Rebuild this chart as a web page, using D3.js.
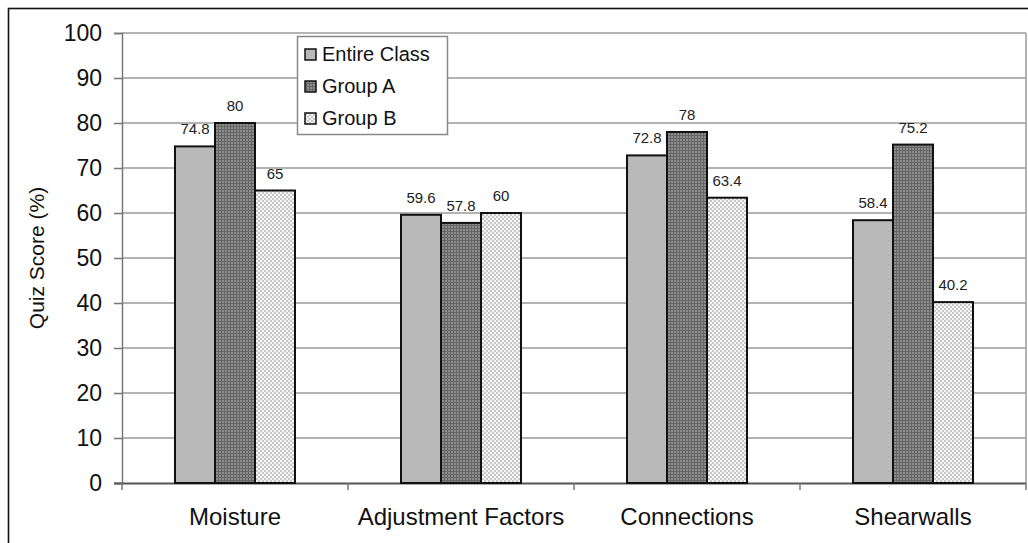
<!DOCTYPE html>
<html>
<head>
<meta charset="utf-8">
<script src="https://cdn.jsdelivr.net/npm/d3@7/dist/d3.min.js"></script>
<style>
  html, body { margin: 0; padding: 0; background: #fff; }
  svg { display: block; font-family: "Liberation Sans", Arial, sans-serif; }
</style>
</head>
<body>
<svg id="chart" width="1028" height="543"></svg>
<script>
// Quiz topics and scores (%)
const categories = ["Moisture", "Adjustment Factors", "Connections", "Shearwalls"];
const seriesNames = ["Entire Class", "Group A", "Group B"];
const entireClass = [74.8, 59.6, 72.8, 58.4];
const groupA = [80, 57.8, 78, 75.2];
const groupB = [65, 60, 63.4, 40.2];
const yTicks = [0, 10, 20, 30, 40, 50, 60, 70, 80, 90, 100];

const seriesValues = [entireClass, groupA, groupB];
const rows = categories.map((c, i) => ({
  category: c,
  values: seriesNames.map((s, k) => ({ series: s, value: seriesValues[k][i] }))
}));

const svg = d3.select("#chart");

// Pattern fills for the three series
const defs = svg.append("defs");
const pA = defs.append("pattern").attr("id", "fill-a")
  .attr("patternUnits", "userSpaceOnUse").attr("width", 3).attr("height", 3);
pA.append("rect").attr("width", 3).attr("height", 3).attr("fill", "#8c8c8c");
pA.append("rect").attr("x", 0).attr("y", 0).attr("width", 3).attr("height", 1).attr("fill", "#666");
pA.append("rect").attr("x", 0).attr("y", 0).attr("width", 1).attr("height", 3).attr("fill", "#666");

const pB = defs.append("pattern").attr("id", "fill-b")
  .attr("patternUnits", "userSpaceOnUse").attr("width", 4).attr("height", 4);
pB.append("rect").attr("width", 4).attr("height", 4).attr("fill", "#f4f4f4");
pB.append("rect").attr("x", 0).attr("y", 0).attr("width", 2).attr("height", 2).attr("fill", "#c8c8c8");
pB.append("rect").attr("x", 2).attr("y", 2).attr("width", 2).attr("height", 2).attr("fill", "#c8c8c8");

const fills = { "Entire Class": "#b9b9b9", "Group A": "url(#fill-a)", "Group B": "url(#fill-b)" };

// Outer frame
svg.append("rect").attr("x", 8.5).attr("y", 8.5).attr("width", 1030).attr("height", 560)
  .attr("fill", "none").attr("stroke", "#111").attr("stroke-width", 1.6);

const plotLeft = 122, plotRight = 1026, plotTop = 33, plotBottom = 483;

const x0 = d3.scaleBand().domain(categories).range([plotLeft, plotRight]).padding(0);
const groupW = 120;
const x1 = d3.scaleBand().domain(seriesNames)
  .range([(x0.bandwidth() - groupW) / 2, (x0.bandwidth() + groupW) / 2]).padding(0);
const y = d3.scaleLinear().domain([0, 100]).range([plotBottom, plotTop]);

// Gridlines
svg.append("g").selectAll("line").data(yTicks.filter(d => d > 0)).join("line")
  .attr("x1", plotLeft).attr("x2", plotRight)
  .attr("y1", d => y(d)).attr("y2", d => y(d))
  .attr("stroke", "#9a9a9a").attr("stroke-width", 1.3);

// Right border of plot area
svg.append("line").attr("x1", plotRight).attr("x2", plotRight).attr("y1", plotTop).attr("y2", plotBottom)
  .attr("stroke", "#9a9a9a").attr("stroke-width", 1.5);

// Y axis
const yAxis = svg.append("g").attr("transform", `translate(${plotLeft},0)`)
  .call(d3.axisLeft(y).tickValues(yTicks).tickSize(8).tickPadding(12));
yAxis.select(".domain").attr("stroke", "#777").attr("stroke-width", 1.5);
yAxis.selectAll(".tick line").attr("stroke", "#777").attr("stroke-width", 1.5);
yAxis.selectAll("text").attr("font-size", 23).attr("fill", "#111")
  .attr("font-family", "Liberation Sans, Arial, sans-serif");

// X axis
const xAxis = svg.append("g").attr("transform", `translate(0,${plotBottom})`)
  .call(d3.axisBottom(x0).tickSize(0).tickPadding(25));
xAxis.select(".domain").attr("stroke", "#555").attr("stroke-width", 1.8)
  .attr("d", `M${plotLeft - 8},0.5H${plotRight}`);
xAxis.selectAll("text").attr("font-size", 24).attr("fill", "#111")
  .attr("font-family", "Liberation Sans, Arial, sans-serif");
// Category boundary ticks
const bounds = categories.map(d => x0(d)).concat([plotRight]);
svg.append("g").selectAll("line").data(bounds).join("line")
  .attr("x1", d => d).attr("x2", d => d).attr("y1", plotBottom).attr("y2", plotBottom + 7)
  .attr("stroke", "#777").attr("stroke-width", 1.5);

// Bars
const groups = svg.append("g").selectAll("g").data(rows).join("g")
  .attr("transform", d => `translate(${x0(d.category)},0)`);

groups.selectAll("rect").data(d => d.values).join("rect")
  .attr("x", d => x1(d.series))
  .attr("y", d => y(d.value))
  .attr("width", x1.bandwidth())
  .attr("height", d => y(0) - y(d.value))
  .attr("fill", d => fills[d.series])
  .attr("stroke", "#111").attr("stroke-width", 2);

// Value labels
groups.selectAll("text.val").data(d => d.values).join("text").attr("class", "val")
  .attr("x", d => x1(d.series) + x1.bandwidth() / 2)
  .attr("y", d => y(d.value) - 12)
  .attr("text-anchor", "middle")
  .attr("font-size", 15).attr("fill", "#222")
  .text(d => d.value);

// Y axis title
svg.append("text")
  .attr("transform", `translate(44,${(plotTop + plotBottom) / 2}) rotate(-90)`)
  .attr("text-anchor", "middle").attr("font-size", 21).attr("fill", "#111")
  .text("Quiz Score (%)");

// Legend
const lg = svg.append("g").attr("transform", "translate(297,36)");
lg.append("rect").attr("x", 0.5).attr("y", 0.5).attr("width", 150).attr("height", 98)
  .attr("fill", "#fff").attr("stroke", "#888").attr("stroke-width", 1.5);
const items = lg.selectAll("g.item").data(seriesNames).join("g").attr("class", "item")
  .attr("transform", (d, i) => `translate(0,${18 + i * 32})`);
items.append("rect").attr("x", 8).attr("y", -5).attr("width", 11).attr("height", 11)
  .attr("fill", d => fills[d]).attr("stroke", "#111").attr("stroke-width", 1.5);
items.append("text").attr("x", 25).attr("y", 0).attr("dy", "0.36em")
  .attr("font-size", 20).attr("fill", "#111").text(d => d);
</script>
</body>
</html>
